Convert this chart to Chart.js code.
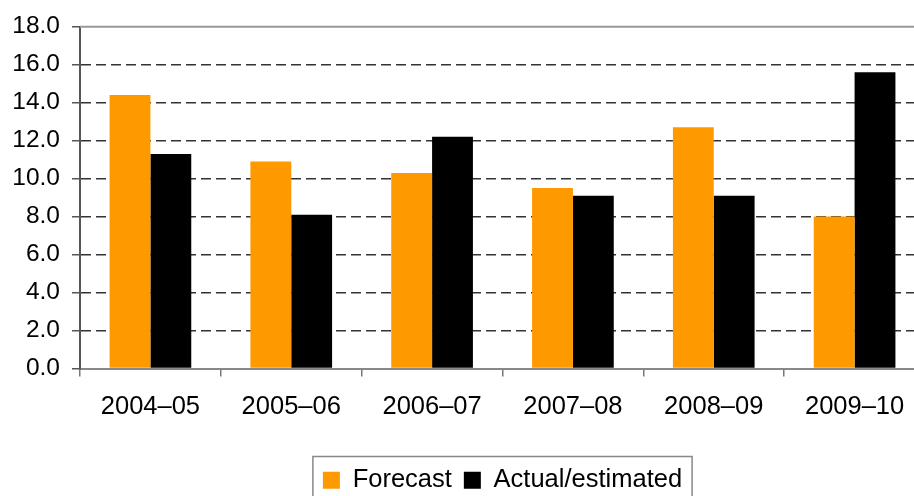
<!DOCTYPE html>
<html>
<head>
<meta charset="utf-8">
<script src="https://cdn.jsdelivr.net/npm/chart.js@4"></script>
<style>
  html, body { margin: 0; padding: 0; background: #fff; overflow: hidden; }
  #wrap { width: 1000px; height: 496px; }
</style>
</head>
<body>
<div id="wrap"><canvas id="chart" width="1000" height="496"></canvas></div>
<script>
const categories = ["2004–05", "2005–06", "2006–07", "2007–08", "2008–09", "2009–10"];
const forecast = [14.4, 10.9, 10.3, 9.5, 12.7, 8.0];
const actual = [11.3, 8.1, 12.2, 9.1, 9.1, 15.6];
const yMin = 0;
const yMax = 18;
const yStep = 2;

const fontFamily = "'Liberation Sans', Arial, sans-serif";

// solid top line of the plot and the box round the legend
const framePlugin = {
  id: "frame",
  afterDraw(chart) {
    const c = chart.ctx;
    const area = chart.chartArea;
    c.save();
    c.strokeStyle = "#999";
    c.lineWidth = 2;
    c.beginPath();
    c.moveTo(area.left, area.top);
    c.lineTo(area.right, area.top);
    c.stroke();

    const boxes = chart.legend.legendHitBoxes;
    if (boxes && boxes.length) {
      const first = boxes[0];
      const last = boxes[boxes.length - 1];
      const left = first.left - 10;
      const right = last.left + last.width + 10;
      c.strokeStyle = "#888";
      c.lineWidth = 1.5;
      c.strokeRect(left, chart.legend.top + 1, right - left, 100);
    }
    c.restore();
  },
};

const ctx = document.getElementById("chart");

new Chart(ctx, {
  type: "bar",
  data: {
    labels: categories,
    datasets: [
      {
        label: "Forecast",
        data: forecast,
        backgroundColor: "#FF9900",
        borderWidth: 0,
        barPercentage: 1,
        categoryPercentage: 0.58,
      },
      {
        label: "Actual/estimated",
        data: actual,
        backgroundColor: "#000000",
        borderWidth: 0,
        barPercentage: 1,
        categoryPercentage: 0.58,
      },
    ],
  },
  options: {
    responsive: false,
    animation: false,
    devicePixelRatio: 1,
    layout: {
      padding: { top: 25, right: 75, left: 0, bottom: -7 },
    },
    plugins: {
      legend: {
        position: "bottom",
        fullSize: false,
        labels: {
          boxWidth: 17,
          boxHeight: 17,
          padding: 12,
          color: "#000",
          font: { family: fontFamily, size: 25.5 },
        },
      },
      tooltip: { enabled: false },
    },
    scales: {
      x: {
        grid: {
          offset: true,
          drawOnChartArea: false,
          tickLength: 8,
          tickColor: "#777",
          lineWidth: 1.5,
        },
        border: { color: "#888", width: 2 },
        ticks: {
          color: "#000",
          padding: 15,
          maxRotation: 0,
          font: { family: fontFamily, size: 25.5 },
        },
        afterFit(scale) {
          scale.height = 87;
        },
      },
      y: {
        min: yMin,
        max: yMax,
        grid: {
          color: (c) => (c.tick && (c.tick.value === yMin || c.tick.value === yMax) ? "rgba(0,0,0,0)" : "#333"),
          lineWidth: 1.5,
          tickLength: 8,
          tickColor: "#555",
        },
        border: { color: "#555", width: 2, dash: [10, 5] },
        ticks: {
          stepSize: yStep,
          color: "#000",
          padding: 12,
          font: { family: fontFamily, size: 24.5 },
          callback: (v) => v.toFixed(1),
        },
        afterFit(scale) {
          scale.width = 80;
        },
      },
    },
  },
  plugins: [framePlugin],
});
</script>
</body>
</html>
